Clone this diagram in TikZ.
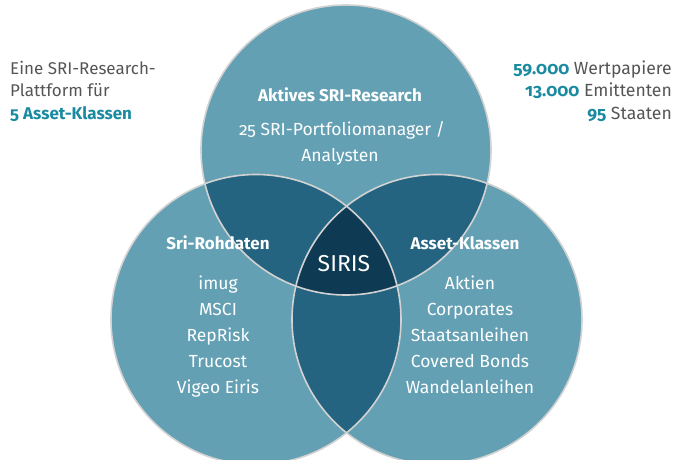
\documentclass[tikz,border=0pt]{standalone}
\usepackage{fontspec}
\setmainfont{Fira Sans}[Numbers=OldStyle]
\definecolor{lightc}{HTML}{64A0B4}
\definecolor{darkc}{HTML}{256480}
\definecolor{corec}{HTML}{0F3A54}
\definecolor{edgec}{HTML}{D2D2D2}
\definecolor{greyt}{HTML}{555555}
\definecolor{accent}{HTML}{1A8AA0}
\begin{document}
\begin{tikzpicture}[x=1pt,y=-1pt,
  intext/.style={text=white,font=\fontsize{17.5}{20}\selectfont,inner sep=0pt,anchor=mid},
  inhead/.style={text=white,font=\fontsize{17}{20}\selectfont\bfseries,inner sep=0pt,anchor=mid},
  outl/.style={text=greyt,font=\fontsize{17}{20}\selectfont,inner sep=0pt,anchor=mid west},
  outr/.style={text=greyt,font=\fontsize{17.6}{20}\selectfont,inner sep=0pt,anchor=mid east},
  acc/.style={text=accent,font=\fontsize{17}{20}\selectfont\bfseries}]
\useasboundingbox (0,0) rectangle (678,460);
\coordinate (ct) at (346,150);
\coordinate (cl) at (256,319.5);
\coordinate (cr) at (437,319.5);
\def\rr{145}
% base fills
\fill[lightc] (ct) circle (\rr);
\fill[lightc] (cl) circle (\rr);
\fill[lightc] (cr) circle (\rr);
% pair overlaps
\begin{scope}
  \clip (ct) circle (\rr);
  \fill[darkc] (cl) circle (\rr);
  \fill[darkc] (cr) circle (\rr);
\end{scope}
\begin{scope}
  \clip (cl) circle (\rr);
  \fill[darkc] (cr) circle (\rr);
\end{scope}
\begin{scope}
  \clip (ct) circle (\rr);
  \clip (cl) circle (\rr);
  \fill[corec] (cr) circle (\rr);
\end{scope}
% borders
\draw[edgec,line width=1.6pt] (ct) circle (\rr);
\draw[edgec,line width=1.6pt] (cl) circle (\rr);
\draw[edgec,line width=1.6pt] (cr) circle (\rr);
% texts in circles
\node[inhead] (th) at (340,99) {Aktives SRI-Research};
\node[intext] (t1) at (342,133) {25 SRI-Portfoliomanager /};
\node[intext] (t2) at (340,159) {Analysten};
\node[inhead] (lh) at (218,247) {Sri-Rohdaten};
\node[intext] (l1) at (218,287) {imug};
\node[intext] (l2) at (218,313) {MSCI};
\node[intext] (l3) at (218,339) {RepRisk};
\node[intext] (l4) at (218,365) {Trucost};
\node[intext] (l5) at (218,391) {Vigeo Eiris};
\node[inhead] (rh) at (465,247) {Asset-Klassen};
\node[intext] (r1) at (470,287) {Aktien};
\node[intext] (r2) at (470,313) {Corporates};
\node[intext] (r3) at (470,339) {Staatsanleihen};
\node[intext] (r4) at (470,365) {Covered Bonds};
\node[intext] (r5) at (470,391) {Wandelanleihen};
\node[text=white,font=\fontsize{23}{26}\selectfont,inner sep=0pt,anchor=mid] (core) at (344,269) {SIRIS};
% outer texts
\node[outl] (la) at (10,72) {Eine SRI-Research-};
\node[outl] (lb) at (10,94) {Plattform für};
\node[outl,acc] (lc) at (10,117) {5 Asset-Klassen};
\node[outr] (ra) at (672,72) {\textcolor{accent}{\bfseries 59.000} Wertpapiere};
\node[outr] (rb) at (672,94) {\textcolor{accent}{\bfseries 13.000} Emittenten};
\node[outr] (rc) at (672,117) {\textcolor{accent}{\bfseries 95} Staaten};
\end{tikzpicture}
\end{document}
